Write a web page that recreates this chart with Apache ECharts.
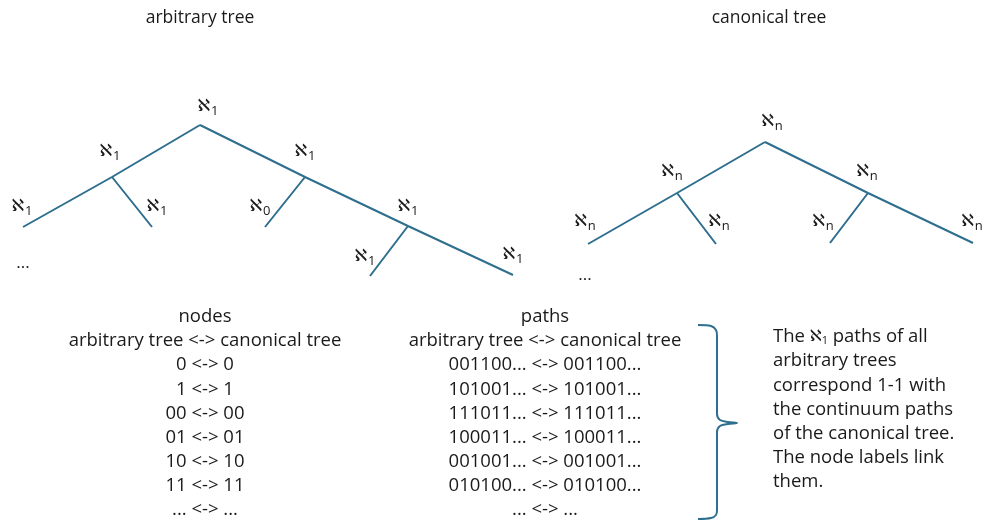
<!DOCTYPE html>
<html><head><meta charset="utf-8">
<script src="https://cdn.jsdelivr.net/npm/echarts@6/dist/echarts.min.js"></script>
<style>html,body{margin:0;padding:0;background:#fff}#c{width:989px;height:525px}</style>
</head><body><div id="c"></div>
<script>
// ---- data ----
const arbNodes = [[200,125],[112,177],[23,227],[152,227],[305,177],[265,227],[408,226],[370,276],[513,275]];
const arbEdges = [[0,1],[1,2],[1,3],[0,4],[4,5],[4,6],[6,7],[6,8]];
const arbLabels = [[208,107,'1'],[110,152,'1'],[22,207,'1'],[157,207,'1'],[260,207,'0'],[305,152,'1'],[408,207,'1'],[365,257,'1'],[513,255,'1']];
const canNodes = [[765,142],[677,193],[588,244],[716,244],[868,193],[830,243],[973,243]];
const canEdges = [[0,1],[1,2],[1,3],[0,4],[4,5],[4,6]];
const canLabels = [[772,122,'n'],[672,172,'n'],[585,222,'n'],[719,222,'n'],[823,222,'n'],[867,172,'n'],[972,222,'n']];
const ellipsis = [[23,263],[585,275]];
const titles = [[200,18,'arbitrary tree'],[769,18,'canonical tree']];
const nodeRows = ['nodes','arbitrary tree <-> canonical tree','0 <-> 0','1 <-> 1','00 <-> 00','01 <-> 01','10 <-> 10','11 <-> 11','... <-> ...'];
const pathRows = ['paths','arbitrary tree <-> canonical tree','001100... <-> 001100...','101001... <-> 101001...','111011... <-> 111011...','100011... <-> 100011...','001001... <-> 001001...','010100... <-> 010100...','... <-> ...'];
const noteRows = ['The {a|ℵ}{s|1} paths of all','arbitrary trees','correspond 1-1 with','the continuum paths','of the canonical tree.','The node labels link','them.'];
const bracePts = [[698,325],[711,326],[716,330],[717,336],[717,414],[720,420],[728,422],[737,423],[728,424],[720,426],[717,432],[717,510],[716,515],[711,518],[698,519]];

// ---- build ----
const LINE = '#2E6E8E', TXT = '#1a1a1a', FONT = '"Open Sans", "DejaVu Sans", sans-serif';
const ALEPH = '"DejaVu Sans", sans-serif';
function edgeData(nodes, edges){ const d=[]; edges.forEach(e=>{d.push(nodes[e[0]],nodes[e[1]],'-');}); return d; }
function rowData(cx, y0, dy, rows){ return rows.map((r,i)=>[cx, y0+i*dy, r]); }
const rich = {
  a:{fontSize:17,color:TXT,fontFamily:ALEPH,lineHeight:22,verticalAlign:'middle'},
  s:{fontSize:13,color:TXT,fontFamily:FONT,lineHeight:22,padding:[8,0,0,1],verticalAlign:'middle'}
};
function textSeries(data, opts){
  return Object.assign({type:'scatter',symbolSize:0,silent:true,data:data,itemStyle:{opacity:1},
    label:{show:true,position:'inside',formatter:p=>p.data[2],color:TXT,fontFamily:FONT,fontSize:18.5,rich:rich}},opts||{});
}
const option = {
  animation:false,
  grid:{left:0,right:0,top:0,bottom:0},
  xAxis:{type:'value',min:0,max:989,show:false},
  yAxis:{type:'value',min:0,max:525,inverse:true,show:false},
  series:[
    {type:'line',data:edgeData(arbNodes,arbEdges),symbol:'none',connectNulls:false,lineStyle:{color:LINE,width:2},silent:true},
    {type:'line',data:edgeData(canNodes,canEdges),symbol:'none',connectNulls:false,lineStyle:{color:LINE,width:2},silent:true},
    {type:'line',data:bracePts,symbol:'none',smooth:0.3,lineStyle:{color:LINE,width:2},silent:true},
    textSeries(arbLabels.map(l=>[l[0],l[1],'{a|ℵ}{s|'+l[2]+'}'])),
    textSeries(canLabels.map(l=>[l[0],l[1],'{a|ℵ}{s|'+l[2]+'}'])),
    textSeries(ellipsis.map(e=>[e[0],e[1],'...']),{label:{show:true,formatter:'...',color:TXT,fontSize:17,fontFamily:FONT}}),
    textSeries(titles,{label:{show:true,formatter:p=>p.data[2],color:TXT,fontSize:17.5,fontFamily:FONT}}),
    textSeries(rowData(205,317,24.1,nodeRows)),
    textSeries(rowData(545,317,24.1,pathRows)),
    textSeries(rowData(773,337,24.2,noteRows),{label:{show:true,position:'right',distance:0,formatter:p=>p.data[2],color:TXT,fontFamily:FONT,fontSize:18.5,rich:{
      a:{fontSize:16,color:TXT,fontFamily:ALEPH},
      s:{fontSize:11,color:TXT,fontFamily:FONT,padding:[8,0,0,0]}}}})
  ]
};
const chart = echarts.init(document.getElementById('c'),null,{renderer:'canvas'});
chart.setOption(option);
</script></body></html>
